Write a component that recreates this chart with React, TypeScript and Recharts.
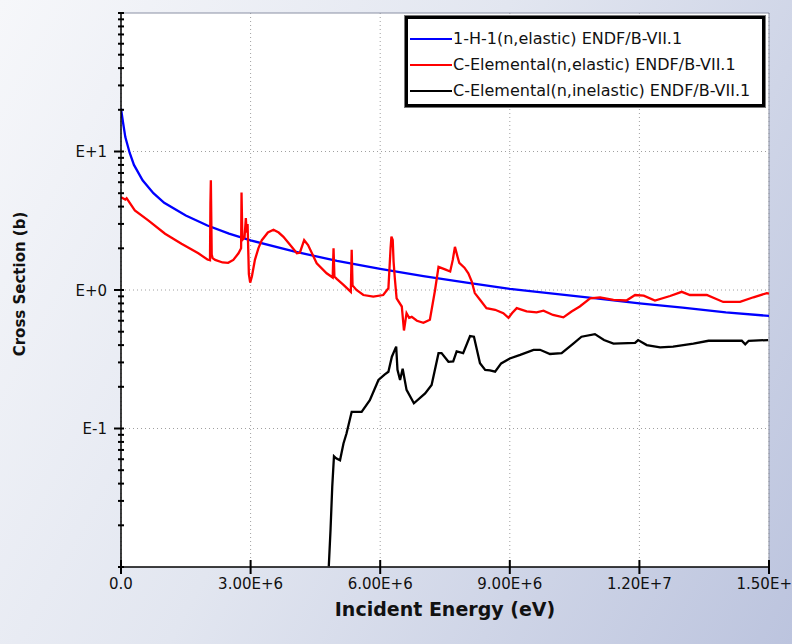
import React from 'react';
import {
  LineChart,
  Line,
  XAxis,
  YAxis,
  CartesianGrid,
  ReferenceLine,
  Legend,
} from 'recharts';

const FONT = '"DejaVu Sans", "Liberation Sans", sans-serif';

// Incident energy in eV, cross section in barns.
const h1ElasticEnergy = [
  0, 0.05e6, 0.1e6, 0.2e6, 0.3e6, 0.5e6, 0.75e6, 1.0e6, 1.5e6, 2.0e6, 2.5e6, 3.0e6,
  4.0e6, 5.0e6, 6.0e6, 7.0e6, 8.0e6, 9.0e6, 10.0e6, 11.0e6, 12.0e6, 13.0e6, 14.0e6, 15.0e6,
];
const h1ElasticXs = [
  20.4, 16, 12.7, 9.8, 8.0, 6.2, 5.0, 4.26, 3.45, 2.92, 2.55, 2.28,
  1.9, 1.62, 1.42, 1.26, 1.13, 1.02, 0.94, 0.87, 0.8, 0.745, 0.69, 0.65,
];

const cElasticEnergy = [
  0, 0.1e6, 0.13e6, 0.16e6, 0.32e6, 0.63e6, 1.02e6, 1.4e6, 1.79e6, 2.0e6, 2.06e6, 2.07e6,
  2.08e6, 2.1e6, 2.12e6, 2.18e6, 2.35e6, 2.48e6, 2.6e6, 2.72e6, 2.78e6, 2.79e6, 2.81e6,
  2.86e6, 2.89e6, 2.91e6, 2.93e6, 2.96e6, 2.99e6, 3.03e6, 3.1e6, 3.18e6, 3.26e6, 3.4e6,
  3.53e6, 3.65e6, 3.76e6, 3.95e6, 4.07e6, 4.14e6, 4.24e6, 4.33e6, 4.53e6, 4.76e6, 4.9e6,
  4.92e6, 4.94e6, 5.0e6, 5.15e6, 5.32e6, 5.34e6, 5.36e6, 5.45e6, 5.61e6, 5.84e6, 6.07e6,
  6.19e6, 6.24e6, 6.26e6, 6.29e6, 6.31e6, 6.34e6, 6.38e6, 6.5e6, 6.55e6, 6.61e6, 6.67e6,
  6.73e6, 6.85e6, 7.0e6, 7.15e6, 7.27e6, 7.35e6, 7.5e6, 7.62e6, 7.68e6, 7.73e6, 7.79e6,
  7.83e6, 7.95e6, 8.04e6, 8.12e6, 8.19e6, 8.31e6, 8.46e6, 8.66e6, 8.85e6, 8.97e6, 9.05e6,
  9.16e6, 9.39e6, 9.62e6, 9.78e6, 10.0e6, 10.24e6, 10.43e6, 10.62e6, 10.86e6, 11.09e6,
  11.4e6, 11.7e6, 11.9e6, 12.1e6, 12.36e6, 12.71e6, 12.98e6, 13.17e6, 13.56e6, 13.94e6,
  14.33e6, 14.64e6, 14.95e6, 15.0e6,
];
const cElasticXs = [
  4.68, 4.5, 4.6, 4.45, 3.75, 3.18, 2.55, 2.16, 1.84, 1.66, 1.64, 4.2,
  6.2, 1.8, 1.7, 1.65, 1.58, 1.57, 1.65, 1.84, 2.0, 5.05, 2.3,
  2.4, 3.3, 2.6, 3.0, 1.3, 1.13, 1.25, 1.65, 2.0, 2.29, 2.6,
  2.72, 2.6, 2.42, 2.05, 1.84, 1.86, 2.29, 2.11, 1.56, 1.32, 1.23,
  2.0, 1.25, 1.2, 1.09, 0.97, 1.95, 1.08, 1.0, 0.92, 0.895, 0.92,
  1.03, 2.0, 2.43, 2.3, 1.6, 1.2, 0.87, 0.76, 0.51, 0.68, 0.63,
  0.64, 0.6, 0.58, 0.61, 1.0, 1.47, 1.41, 1.36, 1.65, 2.05, 1.74,
  1.57, 1.45, 1.32, 1.15, 0.95, 0.85, 0.74, 0.72, 0.68, 0.63, 0.68,
  0.74, 0.7, 0.69, 0.71, 0.66, 0.635, 0.7, 0.76, 0.87, 0.885,
  0.85, 0.84, 0.92, 0.91, 0.84, 0.905, 0.97, 0.92, 0.92, 0.82,
  0.82, 0.886, 0.95, 0.94,
];

const cInelasticEnergy = [
  4.81e6, 4.85e6, 4.89e6, 4.93e6, 4.98e6, 5.07e6, 5.15e6, 5.22e6, 5.34e6, 5.57e6, 5.76e6,
  5.96e6, 6.1e6, 6.19e6, 6.27e6, 6.37e6, 6.4e6, 6.46e6, 6.52e6, 6.61e6, 6.78e6, 7.04e6,
  7.19e6, 7.35e6, 7.42e6, 7.58e6, 7.69e6, 7.77e6, 7.92e6, 8.08e6, 8.17e6, 8.31e6, 8.43e6,
  8.54e6, 8.66e6, 8.8e6, 9.0e6, 9.24e6, 9.55e6, 9.7e6, 9.93e6, 10.2e6, 10.47e6, 10.66e6,
  10.97e6, 11.18e6, 11.4e6, 11.9e6, 11.97e6, 12.17e6, 12.48e6, 12.78e6, 13.25e6, 13.6e6,
  14.37e6, 14.45e6, 14.53e6, 14.98e6,
];
const cInelasticXs = [
  0.0101, 0.0185, 0.038, 0.063, 0.061, 0.059, 0.078, 0.092, 0.132, 0.132, 0.16,
  0.224, 0.245, 0.257, 0.33, 0.39, 0.265, 0.224, 0.27, 0.19, 0.152, 0.179,
  0.206, 0.35, 0.35, 0.303, 0.305, 0.36, 0.35, 0.465, 0.46, 0.296, 0.265,
  0.263, 0.257, 0.295, 0.32, 0.34, 0.37, 0.37, 0.345, 0.35, 0.41, 0.46,
  0.48, 0.435, 0.41, 0.415, 0.435, 0.4, 0.385, 0.39, 0.41, 0.43,
  0.43, 0.405, 0.43, 0.435,
];

const xTicks = [0, 3e6, 6e6, 9e6, 1.2e7, 1.5e7];
const yDecades = [-2, -1, 0, 1];
const yLabelledDecades = [-1, 0, 1];

const toPoints = (energy: number[], xs: number[]) =>
  energy.map((e, i) => ({ e, xs: xs[i] }));

const series = [
  { name: '1-H-1(n,elastic) ENDF/B-VII.1', color: '#0000ff', data: toPoints(h1ElasticEnergy, h1ElasticXs) },
  { name: 'C-Elemental(n,elastic) ENDF/B-VII.1', color: '#ff0000', data: toPoints(cElasticEnergy, cElasticXs) },
  { name: 'C-Elemental(n,inelastic) ENDF/B-VII.1', color: '#000000', data: toPoints(cInelasticEnergy, cInelasticXs) },
];

// log axis ticks: every 1..9 x 10^k, plus the top of the range
const yTicks: number[] = [];
yDecades.forEach((k) => {
  for (let m = 1; m <= 9; m++) yTicks.push(Number((m * Math.pow(10, k)).toPrecision(6)));
});
yTicks.push(100);

const formatEnergy = (v: number) => {
  if (v === 0) return '0.0';
  const exp = Math.floor(Math.log10(v) + 1e-9);
  const mant = v / Math.pow(10, exp);
  return `${mant.toFixed(2)}E+${exp}`;
};

const decadeLabel = (v: number) => {
  const lg = Math.log10(v);
  const exp = Math.round(lg);
  if (Math.abs(lg - exp) > 1e-6 || !yLabelledDecades.includes(exp)) return null;
  return `E${exp >= 0 ? '+' : '-'}${Math.abs(exp)}`;
};

const renderXTick = (props: any) => {
  const { x, y, payload } = props;
  return (
    <g>
      <line x1={x} x2={x} y1={y - 7} y2={y + 7} stroke="#000" strokeWidth={2} />
      <text x={x} y={y + 22} textAnchor="middle" fontFamily={FONT} fontSize={15} fill="#111">
        {formatEnergy(payload.value)}
      </text>
    </g>
  );
};

const renderYTick = (props: any) => {
  const { x, y, payload } = props;
  const label = decadeLabel(payload.value);
  return (
    <g>
      <line x1={x - (label ? 7 : 3)} x2={x + 3} y1={y} y2={y} stroke="#000" strokeWidth={2} />
      {label && (
        <text x={x - 14} y={y + 5.5} textAnchor="end" fontFamily={FONT} fontSize={15} fill="#111">
          {label}
        </text>
      )}
    </g>
  );
};

const renderXTitle = (props: any) => {
  const vb = props.viewBox;
  return (
    <text
      x={vb.x + vb.width / 2}
      y={vb.y + 49}
      textAnchor="middle"
      fontFamily={FONT}
      fontSize={19}
      fontWeight="bold"
      fill="#111"
    >
      Incident Energy (eV)
    </text>
  );
};

const renderYTitle = (props: any) => {
  const vb = props.viewBox;
  const cx = vb.x + 25;
  const cy = vb.y + vb.height / 2 - 6;
  return (
    <text
      x={cx}
      y={cy}
      transform={`rotate(-90 ${cx} ${cy})`}
      textAnchor="middle"
      fontFamily={FONT}
      fontSize={15}
      fontWeight="bold"
      fill="#111"
    >
      Cross Section (b)
    </text>
  );
};

const renderLegend = (props: any) => {
  const payload = props.payload || [];
  return (
    <div
      style={{
        boxSizing: 'border-box',
        width: 360,
        height: 91,
        border: '3px solid #000',
        outline: '1px solid #777',
        background: '#fff',
        paddingTop: 7,
        fontFamily: FONT,
        fontSize: 16,
        color: '#111',
      }}
    >
      {payload.map((entry: any) => (
        <div key={entry.value} style={{ display: 'flex', alignItems: 'center', height: 26 }}>
          <div style={{ width: 42, height: 2, background: entry.color, marginLeft: 2, marginRight: 1 }} />
          <span style={{ whiteSpace: 'nowrap', lineHeight: 1 }}>{entry.value}</span>
        </div>
      ))}
    </div>
  );
};

export default function App() {
  return (
    <div
      style={{
        position: 'absolute',
        left: 0,
        top: 0,
        width: 792,
        height: 644,
        background: 'linear-gradient(118deg, #f6f7fa 0%, #e2e6f0 45%, #bcc4de 100%)',
      }}
    >
      <LineChart width={792} height={644} margin={{ top: 13, right: 23, left: 0, bottom: 0 }}>
        <CartesianGrid horizontal={false} stroke="#a0a0a0" strokeDasharray="1 3" fill="#ffffff" />
        <XAxis
          dataKey="e"
          type="number"
          domain={[0, 1.5e7]}
          ticks={xTicks}
          interval={0}
          height={77}
          tickSize={0}
          tickMargin={0}
          tickLine={false}
          axisLine={{ stroke: '#000', strokeWidth: 1.5 }}
          tick={renderXTick}
          label={renderXTitle}
          allowDataOverflow
        />
        <YAxis
          type="number"
          scale="log"
          domain={[0.01, 100]}
          ticks={yTicks}
          interval={0}
          width={121}
          tickSize={0}
          tickMargin={0}
          tickLine={false}
          axisLine={{ stroke: '#000', strokeWidth: 1.5 }}
          tick={renderYTick}
          label={renderYTitle}
          allowDataOverflow
        />
        {yLabelledDecades.map((k) => (
          <ReferenceLine key={k} y={Math.pow(10, k)} stroke="#a0a0a0" strokeDasharray="1 3" />
        ))}
        <ReferenceLine y={100} stroke="#8a90a4" strokeWidth={1} />
        <ReferenceLine x={1.5e7} stroke="#8a90a4" strokeWidth={1} />
        {series.map((s) => (
          <Line
            key={s.name}
            data={s.data}
            dataKey="xs"
            name={s.name}
            stroke={s.color}
            strokeWidth={2.3}
            dot={false}
            type="linear"
            isAnimationActive={false}
          />
        ))}
        <Legend
          layout="vertical"
          align="center"
          verticalAlign="middle"
          wrapperStyle={{ left: 405, top: 16, width: 360, height: 91 }}
          content={renderLegend}
        />
      </LineChart>
    </div>
  );
}
